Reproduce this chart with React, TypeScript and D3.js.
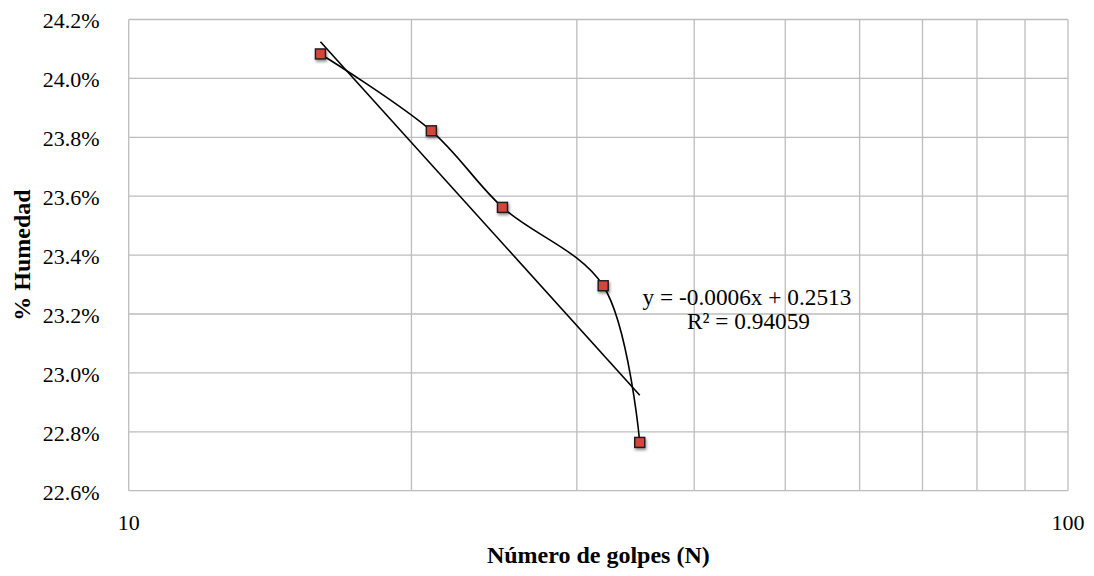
import { useEffect } from "react";
import * as d3 from "d3";

// blows (N) and moisture content
const golpes = [16, 21, 25, 32, 35];
const humedad = [0.24083, 0.23822, 0.23562, 0.23296, 0.22764];
const yTicks = [0.226, 0.228, 0.23, 0.232, 0.234, 0.236, 0.238, 0.24, 0.242];
const xGrid = [10, 20, 30, 40, 50, 60, 70, 80, 90, 100];
const xLabels = [10, 100];
const equation = ["y = -0.0006x + 0.2513", "R² = 0.94059"];

const width = 1094;
const height = 576;
const margin = { top: 19.5, right: 26, bottom: 85.3, left: 128.7 };
const font = "'Liberation Serif', 'Times New Roman', serif";

function fitLine(xs: number[], ys: number[]) {
  const mx = d3.mean(xs) ?? 0;
  const my = d3.mean(ys) ?? 0;
  const sxy = d3.sum(xs, (x, i) => (x - mx) * (ys[i] - my));
  const sxx = d3.sum(xs, (x) => (x - mx) ** 2);
  const slope = sxy / sxx;
  return { slope, intercept: my - slope * mx };
}

export default function App() {
  useEffect(() => {
    document.body.style.margin = "0";
  }, []);

  const x = d3.scaleLog().domain([10, 100]).range([margin.left, width - margin.right]);
  const y = d3.scaleLinear().domain([0.226, 0.242]).range([height - margin.bottom, margin.top]);
  const points = golpes.map((g, i) => [g, humedad[i]] as [number, number]);
  const smooth = d3
    .line<[number, number]>()
    .x((d) => x(d[0]))
    .y((d) => y(d[1]))
    .curve(d3.curveCatmullRom.alpha(0.5));
  const fit = fitLine(golpes, humedad);
  const xMin = d3.min(golpes) ?? 10;
  const xMax = d3.max(golpes) ?? 100;
  const trend: [number, number][] = [
    [xMin, fit.intercept + fit.slope * xMin],
    [xMax, fit.intercept + fit.slope * xMax],
  ];
  const gridColor = "#bdbdbd";

  return (
    <svg width={width} height={height} style={{ display: "block", fontFamily: font }}>
      <defs>
        <filter id="shadow" x="-50%" y="-50%" width="200%" height="200%">
          <feDropShadow dx="1" dy="2" stdDeviation="1.5" floodColor="#000" floodOpacity="0.45" />
        </filter>
      </defs>
      {yTicks.map((t) => (
        <g key={t}>
          <line x1={margin.left} x2={width - margin.right} y1={y(t)} y2={y(t)} stroke={gridColor} strokeWidth={1.3} />
          <text x={margin.left - 29} y={y(t) + 8.8} textAnchor="end" fontSize={22}>
            {d3.format(".1%")(t)}
          </text>
        </g>
      ))}
      {xGrid.map((t) => (
        <line key={t} x1={x(t)} x2={x(t)} y1={margin.top} y2={height - margin.bottom} stroke={gridColor} strokeWidth={1.3} />
      ))}
      {xLabels.map((t) => (
        <text key={t} x={x(t)} y={height - margin.bottom + 39} textAnchor="middle" fontSize={22}>
          {t}
        </text>
      ))}
      <path d={smooth(points) ?? ""} fill="none" stroke="#000" strokeWidth={1.6} />
      <path
        d={d3.line<[number, number]>().x((d) => x(d[0])).y((d) => y(d[1]))(trend) ?? ""}
        fill="none"
        stroke="#000"
        strokeWidth={1.6}
      />
      {points.map((d) => (
        <rect
          key={d[0]}
          x={x(d[0]) - 5}
          y={y(d[1]) - 5}
          width={10}
          height={10}
          fill="#d5443a"
          stroke="#1a1a1a"
          strokeWidth={1.4}
          filter="url(#shadow)"
        />
      ))}
      <text x={747} y={304.5} textAnchor="middle" fontSize={23.3}>
        {equation[0]}
      </text>
      <text x={748.5} y={329} textAnchor="middle" fontSize={23.3}>
        {equation[1]}
      </text>
      <text
        x={(margin.left + width - margin.right) / 2}
        y={563}
        textAnchor="middle"
        fontSize={24}
        fontWeight="bold"
      >
        Número de golpes (N)
      </text>
      <text
        transform={`translate(30, ${(margin.top + height - margin.bottom) / 2}) rotate(-90)`}
        textAnchor="middle"
        fontSize={24}
        fontWeight="bold"
      >
        % Humedad
      </text>
    </svg>
  );
}
